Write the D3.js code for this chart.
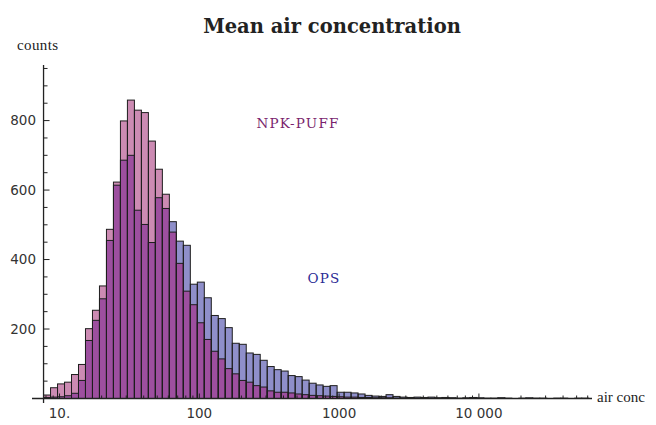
<!DOCTYPE html>
<html>
<head>
<meta charset="utf-8">
<script src="https://cdn.jsdelivr.net/npm/d3@7"></script>
<style>
  body { margin: 0; background: #fff; }
  svg { display: block; }
</style>
</head>
<body>
<script>
//log-binned histogram of mean air concentration, two models overlaid

//bins: 20 per decade, first left edge in log10 units
var binStart = 0.8856,
    binStep = 0.05;

//counts per bin
var npkPuff = [10, 31, 42, 47, 69, 98, 201, 254, 324, 487,
    623, 799, 859, 830, 823, 741, 660, 588, 479, 389,
    309, 270, 218, 170, 136, 114, 86, 71, 52, 47,
    37, 33, 22, 18, 18, 16, 13, 11, 9, 8,
    7, 6, 5, 4, 4, 3, 3, 2, 2, 2,
    1, 1, 1, 1, 0, 1, 1, 0, 1, 0,
    0, 1, 0, 0, 0, 1, 0, 0, 0, 0,
    0, 0, 0, 0, 0, 0, 0, 0];
var ops = [3, 4, 5, 8, 15, 52, 167, 225, 287, 455,
    614, 686, 700, 542, 501, 449, 578, 547, 509, 453,
    441, 329, 335, 290, 239, 230, 204, 159, 156, 131,
    127, 110, 92, 83, 79, 66, 63, 53, 44, 39,
    35, 37, 18, 18, 16, 13, 9, 7, 6, 11,
    6, 4, 3, 4, 3, 4, 2, 3, 2, 1,
    2, 3, 2, 1, 1, 2, 1, 0, 1, 2,
    1, 1, 0, 1, 1, 0, 1, 1];

var xTicks = [10, 100, 1000, 10000],
    xTickLabels = ["10.", "100", "1000", "10 000"],
    yTicks = [0, 200, 400, 600, 800];

var colPink = "#cc8bb3",
    colBlue = "#8f8fca",
    colBoth = "#9d4f9f";

var width = 656,
    height = 425;

var svg = d3.select("body")
    .append("svg")
    .attr("width", width)
    .attr("height", height);

//scales
var x = d3.scaleLog()
    .domain([Math.pow(10, 0.803), Math.pow(10, 4.809)])
    .range([32, 592]);

var y = d3.scaleLinear()
    .domain([0, 960])
    .range([398.5, 65]);

var yAxisX = x(Math.pow(10, binStart));

//build bin table from the arrays
var bins = npkPuff.map(function(d, i){
    return {
        lo: Math.pow(10, binStart + binStep * i),
        hi: Math.pow(10, binStart + binStep * (i + 1)),
        npk: d,
        ops: ops[i]
    };
});

function barX(d){ return x(d.lo); }
function barW(d){ return x(d.hi) - x(d.lo); }

//taller parts first, then the overlap, then outlines
svg.selectAll(".npk")
    .data(bins)
    .enter()
    .append("rect")
    .attr("class", "npk")
    .attr("x", barX)
    .attr("width", barW)
    .attr("y", function(d){ return y(d.npk); })
    .attr("height", function(d){ return y(0) - y(d.npk); })
    .style("fill", colPink);

svg.selectAll(".ops")
    .data(bins)
    .enter()
    .append("rect")
    .attr("class", "ops")
    .attr("x", barX)
    .attr("width", barW)
    .attr("y", function(d){ return y(d.ops); })
    .attr("height", function(d){ return y(0) - y(d.ops); })
    .style("fill", colBlue);

svg.selectAll(".both")
    .data(bins)
    .enter()
    .append("rect")
    .attr("class", "both")
    .attr("x", barX)
    .attr("width", barW)
    .attr("y", function(d){ return y(Math.min(d.npk, d.ops)); })
    .attr("height", function(d){ return y(0) - y(Math.min(d.npk, d.ops)); })
    .style("fill", colBoth);

["npk", "ops"].forEach(function(key){
    svg.selectAll(".edge-" + key)
        .data(bins.filter(function(d){ return d[key] > 0; }))
        .enter()
        .append("rect")
        .attr("class", "edge-" + key)
        .attr("x", barX)
        .attr("width", barW)
        .attr("y", function(d){ return y(d[key]); })
        .attr("height", function(d){ return y(0) - y(d[key]); })
        .style("fill", "none")
        .style("stroke", "#1e1e1e")
        .style("stroke-width", 1);
});

//axes, drawn by hand in Mathematica style (ticks inside)
var axisCol = "#222";

svg.append("line")
    .attr("x1", 32).attr("x2", 592)
    .attr("y1", y(0)).attr("y2", y(0))
    .style("stroke", axisCol).style("stroke-width", 1.3);

svg.append("line")
    .attr("x1", yAxisX).attr("x2", yAxisX)
    .attr("y1", 65).attr("y2", 403)
    .style("stroke", axisCol).style("stroke-width", 1.3);

//y ticks every 50, labels every 200
var yMinor = d3.range(50, 960, 50);
svg.selectAll(".ytick")
    .data(yMinor)
    .enter()
    .append("line")
    .attr("class", "ytick")
    .attr("x1", yAxisX)
    .attr("x2", function(d){ return yAxisX + (d % 200 == 0 ? 6 : 4); })
    .attr("y1", function(d){ return y(d); })
    .attr("y2", function(d){ return y(d); })
    .style("stroke", axisCol);

svg.selectAll(".ylab")
    .data(yTicks.slice(1))
    .enter()
    .append("text")
    .attr("class", "ylab")
    .attr("x", 36)
    .attr("y", function(d){ return y(d); })
    .attr("dy", "0.36em")
    .attr("text-anchor", "end")
    .style("font-family", "DejaVu Sans")
    .style("font-size", "13.5px")
    .style("fill", "#333")
    .text(function(d){ return d; });

//x log ticks
var xMinor = [];
[1, 10, 100, 1000, 10000].forEach(function(dec){
    for (var k=1; k<10; k++){
        var v = dec * k;
        if (x(v) > yAxisX && x(v) < 592) xMinor.push(v);
    }
});
svg.selectAll(".xtick")
    .data(xMinor)
    .enter()
    .append("line")
    .attr("class", "xtick")
    .attr("x1", function(d){ return x(d); })
    .attr("x2", function(d){ return x(d); })
    .attr("y1", y(0))
    .attr("y2", function(d){ return y(0) - (xTicks.indexOf(d) >= 0 ? 5 : 3); })
    .style("stroke", axisCol);

svg.selectAll(".xlab")
    .data(xTicks)
    .enter()
    .append("text")
    .attr("class", "xlab")
    .attr("x", function(d){ return x(d); })
    .attr("y", 418)
    .attr("text-anchor", "middle")
    .style("font-family", "DejaVu Sans")
    .style("font-size", "13.5px")
    .style("fill", "#333")
    .text(function(d, i){ return xTickLabels[i]; });

//axis names
svg.append("text")
    .attr("x", 17).attr("y", 50)
    .style("font-family", "Liberation Serif")
    .style("font-size", "15px")
    .style("letter-spacing", "0.4px")
    .style("fill", "#222")
    .text("counts");

svg.append("text")
    .attr("x", 597).attr("y", 402)
    .style("font-family", "Liberation Serif")
    .style("font-size", "15px")
    .style("fill", "#222")
    .text("air conc");

//title
svg.append("text")
    .attr("x", 332).attr("y", 33)
    .attr("text-anchor", "middle")
    .style("font-family", "DejaVu Serif")
    .style("font-weight", "bold")
    .style("font-size", "19.5px")
    .style("fill", "#222")
    .text("Mean air concentration");

//series labels
svg.append("text")
    .attr("x", 298).attr("y", 128)
    .attr("text-anchor", "middle")
    .style("font-family", "DejaVu Serif")
    .style("font-size", "13.5px")
    .style("letter-spacing", "1.2px")
    .style("fill", "#7a1f6e")
    .text("NPK-PUFF");

svg.append("text")
    .attr("x", 324).attr("y", 283)
    .attr("text-anchor", "middle")
    .style("font-family", "DejaVu Serif")
    .style("font-size", "13.5px")
    .style("letter-spacing", "1.2px")
    .style("fill", "#2b2b95")
    .text("OPS");
</script>
</body>
</html>
